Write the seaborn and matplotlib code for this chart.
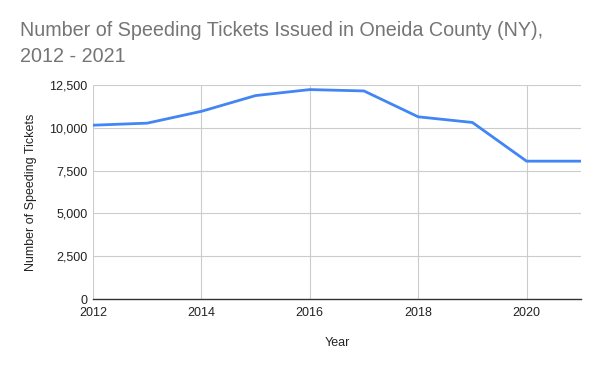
import matplotlib
matplotlib.use("Agg")
import matplotlib.pyplot as plt
import matplotlib.ticker as mticker
import seaborn as sns
import pandas as pd

years = [2012, 2013, 2014, 2015, 2016, 2017, 2018, 2019, 2020, 2021]
tickets = [10150, 10270, 10960, 11880, 12230, 12150, 10640, 10310, 8050, 8050]

df = pd.DataFrame({"Year": years, "Tickets": tickets})

sns.set_theme(style="whitegrid")
plt.rcParams["font.family"] = ["Liberation Sans", "DejaVu Sans"]

fig = plt.figure(figsize=(6, 3.71), dpi=100)
ax = fig.add_axes([0.155, 0.194, 0.813, 0.577])

sns.lineplot(data=df, x="Year", y="Tickets", ax=ax, color="#4285F4", linewidth=2)

ax.set_xlim(2012, 2021)
ax.set_ylim(0, 12500)
ax.set_xticks([2012, 2014, 2016, 2018, 2020])
ax.set_yticks([0, 2500, 5000, 7500, 10000, 12500])
ax.yaxis.set_major_formatter(mticker.FuncFormatter(lambda v, p: f"{int(v):,}"))
ax.tick_params(axis="y", labelsize=9, colors="#222222", length=0, pad=4)
ax.tick_params(axis="x", labelsize=9, colors="#222222", length=0, pad=6)
ax.grid(True, color="#cccccc", linewidth=0.8)
for s in ["top", "right", "left"]:
    ax.spines[s].set_visible(False)
ax.spines["bottom"].set_visible(True)
ax.spines["bottom"].set_color("#333333")
ax.spines["bottom"].set_linewidth(1)

ax.set_xlabel("Year", fontsize=9, color="#222222", labelpad=13)
ax.set_ylabel("Number of Speeding Tickets", fontsize=9, color="#222222", labelpad=9)

fig.text(0.033, 1 - 62 / 371, "Number of Speeding Tickets Issued in Oneida County (NY),\n2012 - 2021",
         fontsize=14.2, color="#757575", ha="left", va="baseline", linespacing=1.45)

fig.savefig("out.png", dpi=100)
